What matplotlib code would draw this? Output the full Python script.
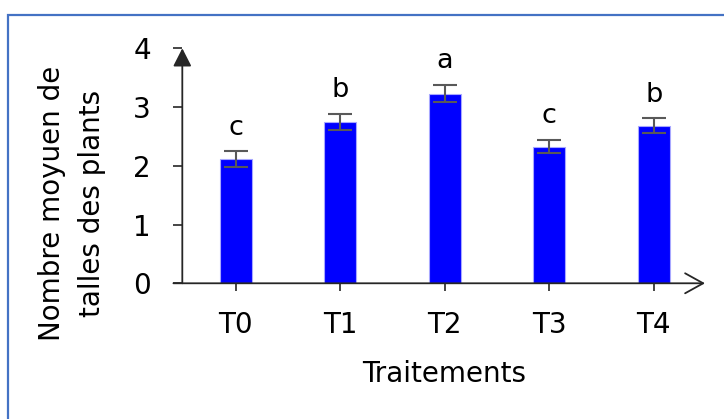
import matplotlib.pyplot as plt
from matplotlib.patches import Rectangle

# mean number of tillers per treatment, with standard errors and group letters
treatments = ['T0', 'T1', 'T2', 'T3', 'T4']
means = [2.11, 2.745, 3.23, 2.325, 2.68]
errors = [0.135, 0.135, 0.145, 0.115, 0.13]
groups = ['c', 'b', 'a', 'c', 'b']

plt.rcParams['font.family'] = 'DejaVu Sans'
axis_col = '#262626'

fig = plt.figure(figsize=(7.24, 4.19), dpi=100)
ax = fig.add_axes([0.2518, 0.3239, 0.9738 - 0.2518, 0.8847 - 0.3239])

x = list(range(len(treatments)))
ax.bar(x, means, width=0.306, color='#0000ff', edgecolor='#a8a8ff', linewidth=0.8, zorder=2)
ax.errorbar(x, means, yerr=errors, fmt='none', ecolor='#595959', elinewidth=1.5,
            capsize=8.5, capthick=1.5, zorder=3)

for xi, m, e, g in zip(x, means, errors, groups):
    ax.annotate(g, xy=(xi, m + e), xytext=(0, 12), textcoords='offset points',
                ha='center', va='baseline', fontsize=19.5)

ax.set_xlim(-0.51, 4.49)
ax.set_ylim(0, 4)
ax.set_yticks([0, 1, 2, 3, 4])
ax.set_xticks(x)
ax.set_xticklabels(treatments)

for s in ax.spines.values():
    s.set_visible(False)

# axis lines with arrow heads
ax.annotate('', xy=(0, 1), xytext=(0, 0), xycoords='axes fraction',
            arrowprops=dict(arrowstyle='-|>,head_length=0.55,head_width=0.28',
                            mutation_scale=20, color=axis_col, lw=1.3,
                            shrinkA=0, shrinkB=0))
ax.annotate('', xy=(1, 0), xytext=(-0.017, 0), xycoords='axes fraction',
            arrowprops=dict(arrowstyle='->,head_length=0.65,head_width=0.36',
                            mutation_scale=20, color=axis_col, lw=1.3,
                            shrinkA=0, shrinkB=0))

ax.tick_params(axis='y', direction='out', length=6.5, width=1.2, color=axis_col,
               pad=16, labelsize=20)
ax.tick_params(axis='x', direction='out', length=6, width=1.2, color=axis_col,
               pad=14, labelsize=20)

ax.set_xlabel('Traitements', fontsize=20, labelpad=15)
fig.text(72 / 724, 1 - 203 / 419, 'Nombre moyuen de\ntalles des plants',
         rotation=90, ha='center', va='center', multialignment='center',
         fontsize=20, linespacing=1.55)

# blue frame around the chart area
fig.patches.append(Rectangle((8 / 724, -0.1), 1.2, 1 - 15 / 419 + 0.1,
                             transform=fig.transFigure, fill=False,
                             edgecolor='#4472c4', linewidth=1.6))

fig.savefig('out.png', dpi=100)
